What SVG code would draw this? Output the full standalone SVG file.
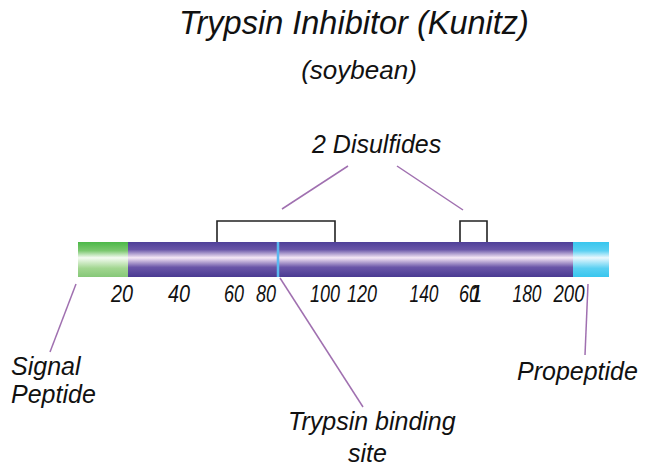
<svg xmlns="http://www.w3.org/2000/svg" width="650" height="475" viewBox="0 0 650 475">
<style>
text{font-family:"Liberation Sans",Arial,sans-serif;font-style:italic;fill:#111}
.num{font-size:23.5px;text-anchor:middle}
.lbl{font-size:25px}
.lead{stroke:#a070b0;stroke-width:1.5;fill:none}
.ss{stroke:#222;stroke-width:1.6;fill:none}
</style>
<defs>
<linearGradient id="gP" x1="0" y1="0" x2="0" y2="1">
<stop offset="0" stop-color="#4e3f98"/><stop offset="0.22" stop-color="#6a56a8"/><stop offset="0.45" stop-color="#f6e8f6"/><stop offset="0.72" stop-color="#6a56a8"/><stop offset="1" stop-color="#4a3a92"/>
</linearGradient>
<linearGradient id="gG" x1="0" y1="0" x2="0" y2="1">
<stop offset="0" stop-color="#4cb848"/><stop offset="0.25" stop-color="#7cc870"/><stop offset="0.45" stop-color="#f4fbf2"/><stop offset="0.75" stop-color="#a2d690"/><stop offset="1" stop-color="#86c878"/>
</linearGradient>
<linearGradient id="gC" x1="0" y1="0" x2="0" y2="1">
<stop offset="0" stop-color="#38c6ee"/><stop offset="0.25" stop-color="#5ad0f2"/><stop offset="0.45" stop-color="#eaf8fe"/><stop offset="0.75" stop-color="#5ad0f2"/><stop offset="1" stop-color="#38c6ee"/>
</linearGradient>
</defs>
<text x="354" y="34" font-size="32.5" text-anchor="middle">Trypsin Inhibitor (Kunitz)</text>
<text x="359" y="79" font-size="26" text-anchor="middle">(soybean)</text>
<g id="protein">
<rect x="78" y="242" width="51" height="35" fill="url(#gG)"/>
<rect x="128" y="242" width="446" height="35" fill="url(#gP)"/>
<rect x="573" y="242" width="36" height="35" fill="url(#gC)"/>
<line x1="278" y1="242" x2="278" y2="277" stroke="#5ab8f0" stroke-width="2.5"/>
</g>
<g id="disulfides">
<polyline class="ss" points="217,242 217,221 335,221 335,242"/>
<polyline class="ss" points="460,242 460,221 487,221 487,242"/>
<text class="lbl" x="312" y="153">2 Disulfides</text>
</g>
<g id="connectors">
<line class="lead" x1="348" y1="166" x2="282" y2="209"/>
<line class="lead" x1="397" y1="166" x2="463" y2="210"/>
<line class="lead" x1="76" y1="284" x2="50" y2="352"/>
<line class="lead" x1="280" y1="278" x2="363" y2="407"/>
<line class="lead" x1="588" y1="284" x2="585" y2="355"/>
</g>
<g id="scale">
<text class="num" x="122" y="302" textLength="22" lengthAdjust="spacingAndGlyphs">20</text>
<text class="num" x="179" y="302" textLength="22" lengthAdjust="spacingAndGlyphs">40</text>
<text class="num" x="234" y="302" textLength="20" lengthAdjust="spacingAndGlyphs">60</text>
<text class="num" x="266" y="302" textLength="20" lengthAdjust="spacingAndGlyphs">80</text>
<text class="num" x="325" y="302" textLength="30" lengthAdjust="spacingAndGlyphs">100</text>
<text class="num" x="362" y="302" textLength="30" lengthAdjust="spacingAndGlyphs">120</text>
<text class="num" x="424" y="302" textLength="29" lengthAdjust="spacingAndGlyphs">140</text>
<text class="num" x="469" y="302" textLength="20" lengthAdjust="spacingAndGlyphs">60</text>
<text class="num" x="476" y="302">1</text>
<text class="num" x="527" y="302" textLength="29" lengthAdjust="spacingAndGlyphs">180</text>
<text class="num" x="569" y="302" textLength="31" lengthAdjust="spacingAndGlyphs">200</text>
</g>
<g id="signal"><text class="lbl" x="11" y="375">Signal</text><text class="lbl" x="11" y="403">Peptide</text></g>
<g id="binding"><text class="lbl" x="288" y="430">Trypsin binding</text><text class="lbl" x="348" y="462">site</text></g>
<g id="propeptide"><text class="lbl" x="517" y="380">Propeptide</text></g>
</svg>
